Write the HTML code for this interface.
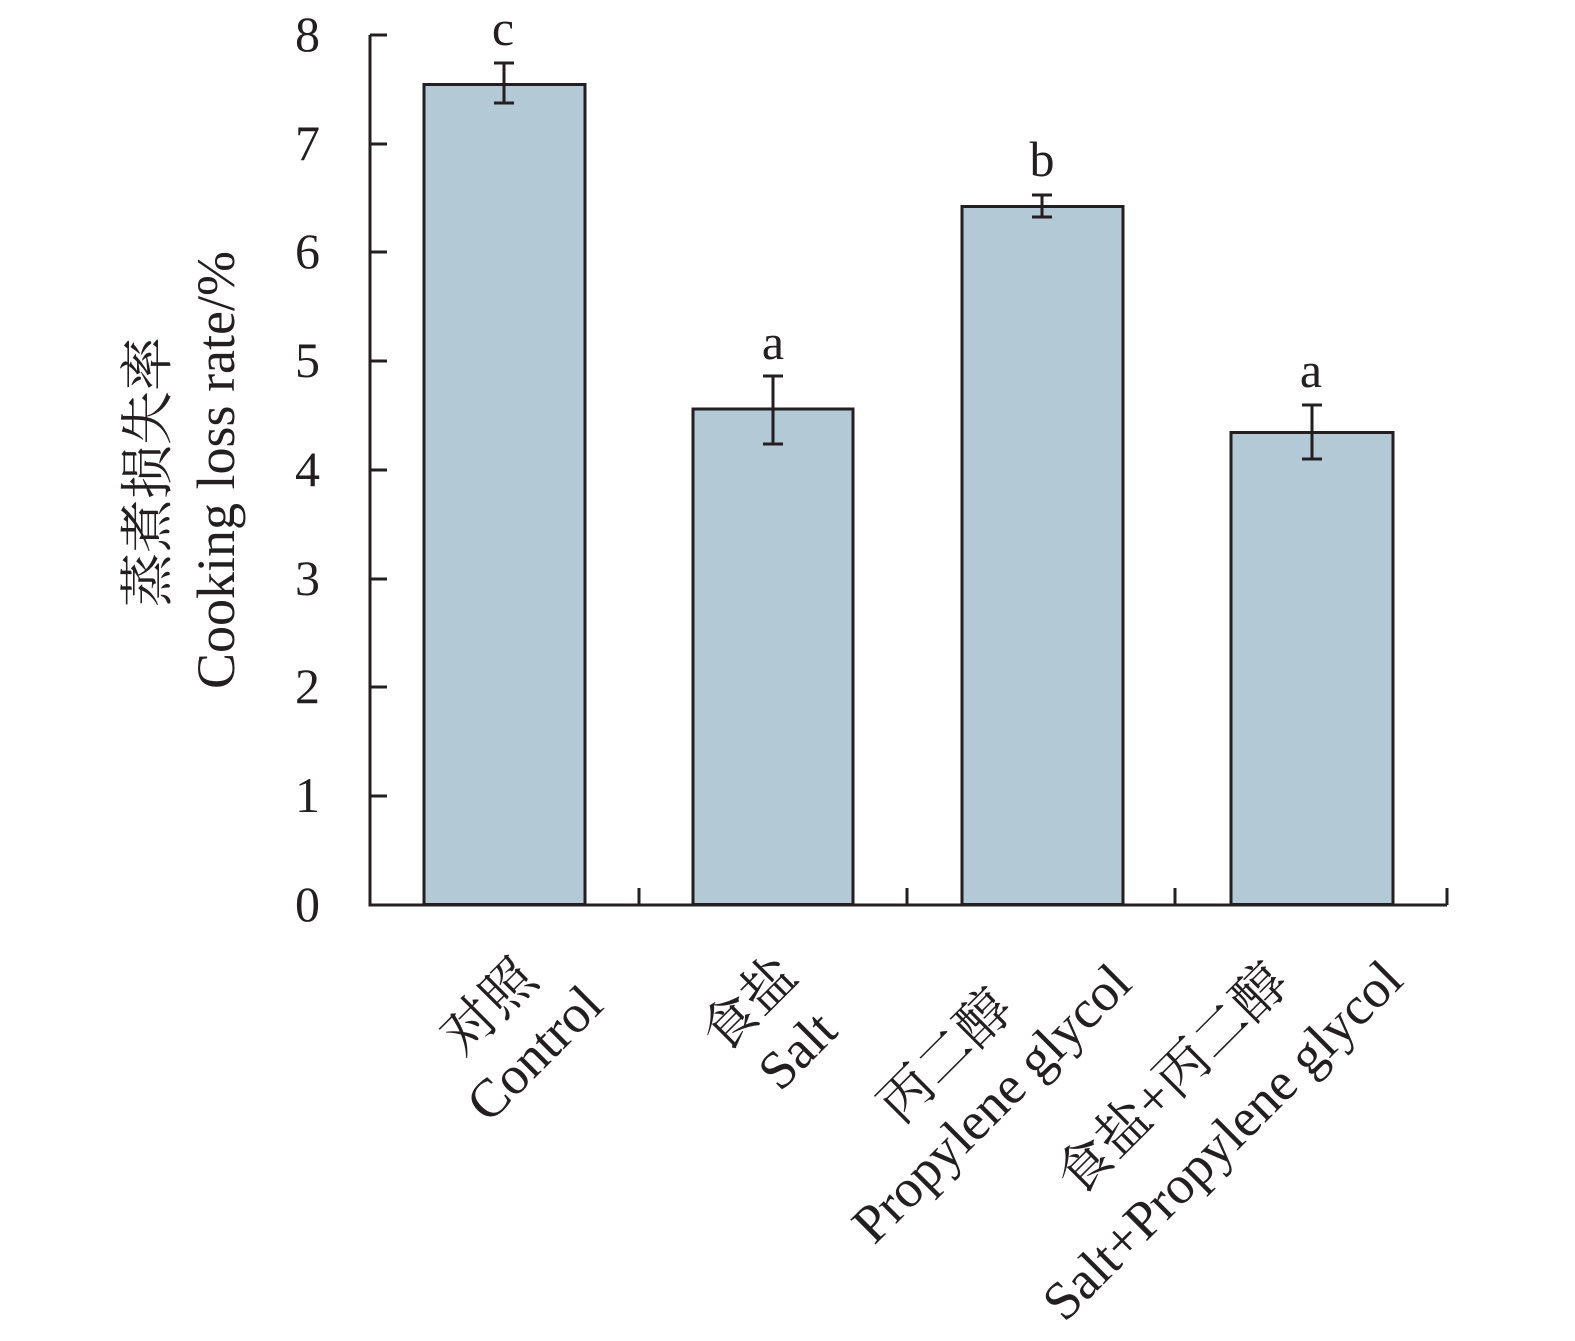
<!DOCTYPE html>
<html><head><meta charset="utf-8"><style>
html,body{margin:0;padding:0;background:#fff;}
svg text{font-family:"Liberation Serif","Noto Serif CJK SC",serif;fill:#231f20;}
</style></head><body>
<svg width="1575" height="1336" viewBox="0 0 1575 1336" xmlns="http://www.w3.org/2000/svg">
<g fill="#b3cad6" stroke="#231f20" stroke-width="3">
<rect x="424" y="84.5" width="161" height="820"/>
<rect x="693" y="409" width="160" height="495.5"/>
<rect x="962" y="206.5" width="161" height="698"/>
<rect x="1231" y="432.5" width="162" height="472"/>
</g>
<g stroke="#231f20" stroke-width="3" fill="none">
<path d="M370 35 V905 H1447"/>
<path d="M370 35h17M370 144h17M370 252h17M370 361h17M370 470h17M370 579h17M370 687h17M370 796h17"/>
<path d="M639 905v-17M907 905v-17M1175 905v-17M1447 905v-17"/>
<path d="M504 63v40M494 63h20M494 103h20"/>
<path d="M773 376v68M763 376h20M763 444h20"/>
<path d="M1042 195v22M1032 195h20M1032 217h20"/>
<path d="M1312 405v54M1302 405h20M1302 459h20"/>
</g>
<g font-size="50" text-anchor="end">
<text x="320" y="51">8</text><text x="320" y="160">7</text><text x="320" y="268">6</text>
<text x="320" y="377">5</text><text x="320" y="486">4</text><text x="320" y="595">3</text>
<text x="320" y="703">2</text><text x="320" y="812">1</text><text x="320" y="921">0</text>
</g>
<g font-size="50" text-anchor="middle">
<text x="503" y="45">c</text><text x="773" y="359">a</text>
<text x="1042" y="176">b</text><text x="1311" y="387">a</text>
</g>
<g font-size="54" text-anchor="middle">
<text transform="translate(166,472) rotate(-90)">蒸煮损失率</text>
<text transform="translate(234,470) rotate(-90)">Cooking loss rate/%</text>
<text transform="translate(502,1020) rotate(-45)">对照</text>
<text transform="translate(547,1066) rotate(-45)">Control</text>
<text transform="translate(762,1017) rotate(-45)">食盐</text>
<text transform="translate(810,1063) rotate(-45)">Salt</text>
<text transform="translate(958,1069) rotate(-45)">丙二醇</text>
<text transform="translate(1004,1116) rotate(-45)">Propylene glycol</text>
<text transform="translate(1185,1092) rotate(-45)">食盐+丙二醇</text>
<text transform="translate(1235,1153) rotate(-45)">Salt+Propylene glycol</text>
</g>
</svg>
</body></html>
